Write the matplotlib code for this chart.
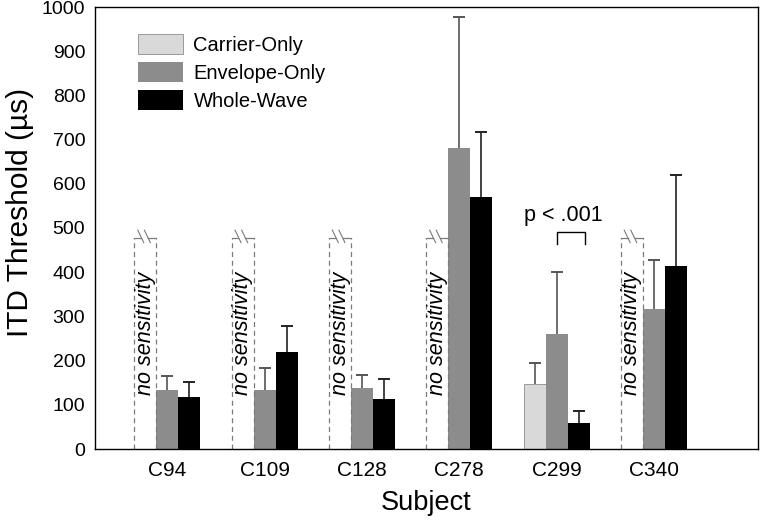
import numpy as np
import matplotlib
matplotlib.use("Agg")
import matplotlib.pyplot as plt

subjects = ['C94', 'C109', 'C128', 'C278', 'C299', 'C340']
carrier = [np.nan, np.nan, np.nan, np.nan, 148, np.nan]
carrier_err = [0, 0, 0, 0, 47, 0]
envelope = [133, 133, 139, 682, 260, 317]
envelope_err = [32, 50, 28, 296, 140, 110]
whole = [117, 220, 113, 571, 59, 414]
whole_err = [35, 59, 45, 147, 27, 206]
series_names = ['Carrier-Only', 'Envelope-Only', 'Whole-Wave']
yticks = [0, 100, 200, 300, 400, 500, 600, 700, 800, 900, 1000]

plt.rcParams['font.family'] = ['Liberation Sans', 'DejaVu Sans']

fig = plt.figure(figsize=(7.72, 5.23), dpi=100)
ax = fig.add_axes([95/772, 1-449/523, (758-95)/772, (449-7)/523])

x = np.arange(len(subjects))
w = 0.226
c_light, c_mid, c_dark = '#d9d9d9', '#8c8c8c', '#000000'

carr = np.array(carrier, dtype=float)
ax.bar(x - w, np.nan_to_num(carr), w, color=c_light, edgecolor='#9a9a9a', linewidth=0.7,
       label=series_names[0])
ax.bar(x, envelope, w, color=c_mid, edgecolor='none', label=series_names[1])
ax.bar(x + w, whole, w, color=c_dark, edgecolor='none', label=series_names[2])


def up_errorbar(xs, ys, errs, color):
    eb = ax.errorbar(xs, ys, yerr=[np.zeros(len(xs)), errs], fmt='none', ecolor=color,
                     elinewidth=1.2, capsize=4, capthick=1.4)
    # hide the caps at the bar tops (lower side), keep the upper caps
    eb[1][0].set_visible(False)


mask = ~np.isnan(carr)
up_errorbar((x - w)[mask], carr[mask], np.array(carrier_err)[mask], '#555555')
up_errorbar(x, envelope, envelope_err, '#555555')
up_errorbar(x + w, whole, whole_err, '#222222')

# "no sensitivity" boxes
box_h = 477
dash = dict(color='#7a7a7a', linestyle=(0, (4, 3)), linewidth=0.9)
for i in np.where(~mask)[0]:
    x0 = x[i] - 1.5 * w
    x1 = x[i] - 0.5 * w
    ax.plot([x0, x0], [0, box_h], **dash)
    ax.plot([x1, x1], [0, box_h], **dash)
    ax.plot([x0, x0 + 0.3 * w], [box_h, box_h], color='#7a7a7a', linewidth=0.9)
    ax.plot([x0 + 0.62 * w, x1], [box_h, box_h], color='#7a7a7a', linewidth=0.9)
    ax.plot([x0 + 0.15 * w, x0 + 0.42 * w], [box_h + 18, box_h - 10], color='#7a7a7a', linewidth=0.8)
    ax.plot([x0 + 0.45 * w, x0 + 0.72 * w], [box_h + 18, box_h - 10], color='#7a7a7a', linewidth=0.8)
    ax.text(x[i] - w, 262, 'no sensitivity', rotation=90, style='italic', fontsize=15.5,
            ha='center', va='center')

# significance bracket
bx0, bx1 = x[4], x[4] + 1.27 * w
ax.plot([bx0, bx0, bx1, bx1], [464, 491, 491, 464], color='black', linewidth=1.0)
ax.text(x[4] + 0.07, 515, 'p < .001', fontsize=15.5, ha='center', va='baseline')

ax.set_xlim(-0.745, 6.07)
ax.set_ylim(0, 1000)
ax.set_yticks(yticks)
ax.set_xticks(x)
ax.set_xticklabels(subjects)
ax.tick_params(axis='y', length=0, labelsize=14, pad=7)
ax.tick_params(axis='x', length=0, labelsize=15, pad=9)
for s in ax.spines.values():
    s.set_linewidth(1.0)
ax.set_ylabel('ITD Threshold (µs)', fontsize=21.5)
ax.yaxis.set_label_coords(-0.0925, 0.536)
ax.set_xlabel('Subject', fontsize=19.5, labelpad=7)

ax.legend(loc='upper left', bbox_to_anchor=(35/663, 1 - 19/442), frameon=False, fontsize=14.5,
          handlelength=2.25, handleheight=1.15, handletextpad=0.5, labelspacing=0.35,
          borderaxespad=0)

fig.savefig('out.png', dpi=100)
